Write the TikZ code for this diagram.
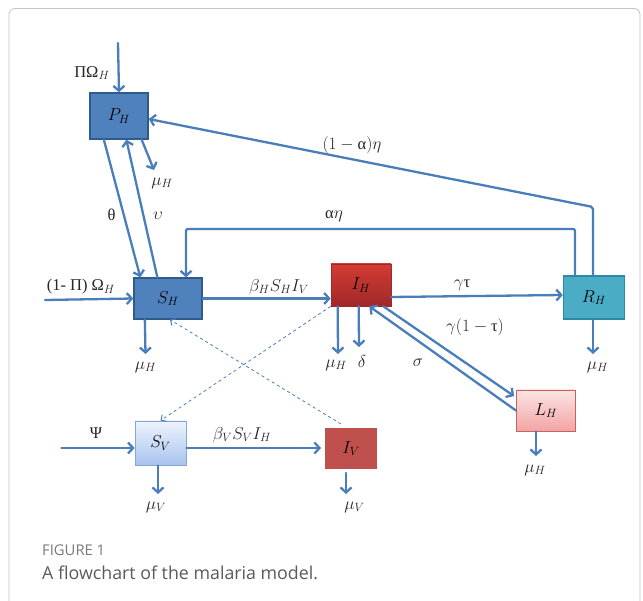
\documentclass[tikz,border=0pt]{standalone}
\usepackage{fontspec}
\newfontfamily\grk{Liberation Serif}
\newfontfamily\capfont{Open Sans}
\usetikzlibrary{arrows.meta,shadows,calc}
\definecolor{arrowblue}{HTML}{4A7EBB}
\definecolor{boxblue}{HTML}{4F81BD}
\definecolor{boxblueb}{HTML}{2E5A8C}
\definecolor{tealbox}{HTML}{4BACC6}
\definecolor{tealb}{HTML}{2C8AA3}
\definecolor{ihtop}{HTML}{D33C34}
\definecolor{ihbot}{HTML}{A02828}
\definecolor{lhtop}{HTML}{FCE4E4}
\definecolor{lhbot}{HTML}{F2A4A4}
\definecolor{lhb}{HTML}{C8605C}
\definecolor{svtop}{HTML}{EEF4FD}
\definecolor{svbot}{HTML}{A8C3EE}
\definecolor{svb}{HTML}{86A7D6}
\definecolor{ivred}{HTML}{C0504D}
\definecolor{framegray}{HTML}{C4C4C4}
\definecolor{capgray}{HTML}{7A7A7A}
\definecolor{captext}{HTML}{5A5A5A}
\begin{document}
\begin{tikzpicture}[x=1pt,y=-1pt,
  arr/.style={draw=arrowblue, line width=2.3pt, line cap=round,
    -{Straight Barb[length=5pt,width=11pt]}},
  dasharr/.style={draw=arrowblue, line width=0.8pt, dashed,
    -{Straight Barb[length=4pt,width=8pt,line width=1pt]}},
  lab/.style={font=\fontsize{16.5}{19}\selectfont, text=black!85, inner sep=1pt},
  boxtxt/.style={font=\fontsize{17}{19}\selectfont, inner sep=0pt},
  darkbox/.style={boxtxt, draw=boxblueb, line width=1.3pt, fill=boxblue},
]
\useasboundingbox (0,0) rectangle (643,601);
\fill[white] (0,0) rectangle (643,601);
\draw[draw=framegray, line width=0.8pt, rounded corners=6pt]
  (9,601) -- (9,8.5) -- (640,8.5) -- (640,601);

% compartments
\node[darkbox, minimum width=58pt, minimum height=46pt] (PH) at (119,116) {$P_H$};
\node[darkbox, minimum width=68pt, minimum height=41pt] (SH) at (168,298.5) {$S_H$};
\node[boxtxt, minimum width=60pt, minimum height=42pt, top color=ihtop, bottom color=ihbot,
  draw=ihbot, line width=0.6pt] (IH) at (361,285) {$I_H$};
\node[boxtxt, minimum width=61pt, minimum height=43pt, fill=tealbox, draw=tealb,
  line width=1.3pt] (RH) at (594,297.5) {$R_H$};
\node[boxtxt, minimum width=59pt, minimum height=41pt, top color=lhtop, bottom color=lhbot,
  draw=lhb, line width=0.8pt] (LH) at (546,410.5) {$L_H$};
\node[boxtxt, minimum width=51pt, minimum height=44pt, top color=svtop, bottom color=svbot,
  draw=svb, line width=0.8pt] (SV) at (160.5,443) {$S_V$};
\node[boxtxt, minimum width=56pt, minimum height=45pt, fill=ivred, draw=white,
  line width=4pt, drop shadow={shadow xshift=1pt, shadow yshift=-1pt, opacity=0.3, fill=black}]
  (IV) at (351,448.5) {$I_V$};

% free ends
\coordinate (pin) at (118,43);
\coordinate (phmu) at (154,170);
\coordinate (rpcorner) at (593,207);
\coordinate (ae1) at (575,229);
\coordinate (ae2) at (186,229);
\coordinate (omin) at (45,300);
\coordinate (shmu) at (145.5,354);
\coordinate (ihmu) at (338,354);
\coordinate (ihd) at (359,347);
\coordinate (rhmu) at (593,354);
\coordinate (lhmu) at (536,456);
\coordinate (psin) at (61.5,448);
\coordinate (svmu) at (158,494);
\coordinate (ivmu) at (346,494);

% connectors
\draw[arr] (pin) -- (PH.north);
\draw[arr] ([xshift=14.5pt]PH.south west) -- ([xshift=7pt]SH.north west);
\draw[arr] ([xshift=24pt]SH.north west) -- ([xshift=37pt]PH.south west);
\draw[arr] ([xshift=-7pt]PH.south east) -- (phmu);
\draw[arr, rounded corners=2pt] ([xshift=-1pt]RH.north) -- (rpcorner) -- ([yshift=-3pt]PH.east);
\draw[arr, rounded corners=2pt] ([xshift=-19pt]RH.north) -- (ae1) -- (ae2) -- ([xshift=18pt]SH.north);
\draw[arr] (omin) -- (SH.west);
\draw[arr] ([xshift=11.5pt]SH.south west) -- (shmu);
\draw[arr] (SH.east) -- (SH.east -| IH.west);
\draw[arr] ([yshift=-12pt]IH.east) -- ([yshift=2.5pt]RH.west);
\draw[arr] ([xshift=7pt]IH.south west) -- (ihmu);
\draw[arr] ([xshift=28pt]IH.south west) -- (ihd);
\draw[arr] ([xshift=-8pt]IH.south east) -- ([xshift=-2pt,yshift=-6.5pt]LH.north west);
\draw[arr] ([yshift=-21pt]LH.north west) -- ([xshift=-22pt]IH.south east);
\draw[arr] ([xshift=-1pt]RH.south) -- (rhmu);
\draw[arr] ([xshift=-10pt]LH.south) -- (lhmu);
\draw[dasharr] (IH.south west) -- (SV.north);
\draw[dasharr] ([xshift=-10pt]IV.north) -- ([xshift=2pt]SH.south);
\draw[arr] (psin) -- (psin -| SV.west);
\draw[arr] (psin -| SV.east) -- (psin -| IV.west);
\draw[arr] ([xshift=-2.5pt]SV.south) -- (svmu);
\draw[arr] ([xshift=-5pt]IV.south) -- (ivmu);

% labels
\node[lab] (lpi) at (92,73) {{\grk ΠΩ}$_H$};
\node[lab] (lphmu) at (162,183) {$\mu_H$};
\node[lab] (ltheta) at (111.5,214.5) {{\grk θ}};
\node[lab] (lups) at (158,216) {$\upsilon$};
\node[lab] (lrp) at (352,145) {$(1-\mbox{\grk α})\eta$};
\node[lab] (lae) at (334,216) {{\grk α}$\eta$};
\node[lab] (lom) at (81,287) {{\grk (1- Π) Ω}$_H$};
\node[lab] (lshmu) at (145.5,367) {$\mu_H$};
\node[lab] (lbh) at (279,287) {$\beta_H S_H I_V$};
\node[lab] (lgt) at (462,285) {$\gamma${\grk τ}};
\node[lab] (lihmu) at (336,365) {$\mu_H$};
\node[lab] (ld) at (362,362) {$\delta$};
\node[lab] (lgt2) at (475,327.5) {$\gamma(1-\mbox{\grk τ})$};
\node[lab] (ls) at (418,363) {$\sigma$};
\node[lab] (lrhmu) at (597.5,367) {$\mu_H$};
\node[lab] (llhmu) at (535,470) {$\mu_H$};
\node[lab] (lpsi) at (96,433) {{\grk Ψ}};
\node[lab] (lbv) at (242,435) {$\beta_V S_V I_H$};
\node[lab] (lsvmu) at (156,507) {$\mu_V$};
\node[lab] (livmu) at (354.5,507) {$\mu_V$};

% caption
\node[anchor=west, inner sep=0pt, font=\capfont\fontsize{14.8}{16}\selectfont, text=capgray]
  (fig) at (42,550) {FIGURE 1};
\node[anchor=west, inner sep=0pt, font=\capfont\fontsize{17.8}{20}\selectfont, text=captext]
  (cap) at (42,573) {A flowchart of the malaria model.};
\end{tikzpicture}
\end{document}
